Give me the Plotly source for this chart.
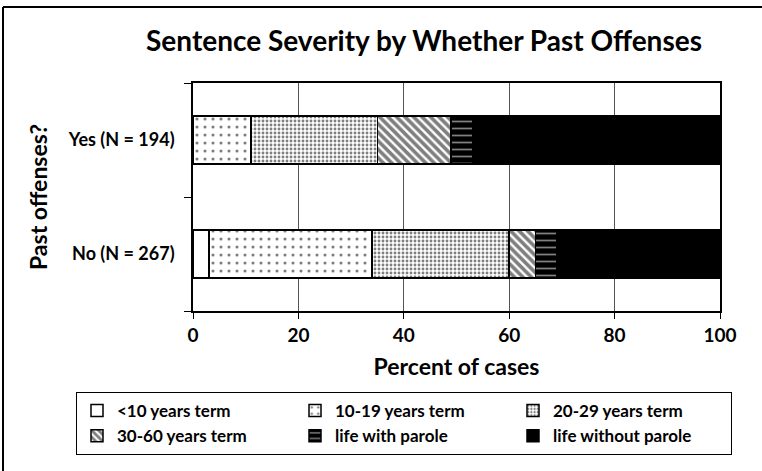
import plotly.graph_objects as go

categories = ["Yes (N = 194)", "No (N = 267)"]
series_names = ["<10 years term", "10-19 years term", "20-29 years term",
                "30-60 years term", "life with parole", "life without parole"]
under_10 = [0, 3]
y10_19 = [11, 31]
y20_29 = [24, 26]
y30_60 = [14, 5]
life_parole = [4, 4]
life_no_parole = [47, 31]
x_ticks = [0, 20, 40, 60, 80, 100]

values = [under_10, y10_19, y20_29, y30_60, life_parole, life_no_parole]
patterns = [
    dict(shape="", bgcolor="white", fgcolor="black"),
    dict(shape=".", size=8, solidity=0.12, bgcolor="white", fgcolor="black"),
    dict(shape=".", size=4, solidity=0.4, bgcolor="white", fgcolor="black"),
    dict(shape="\\", size=6, solidity=0.6, bgcolor="white", fgcolor="black"),
    dict(shape="-", size=7, solidity=0.25, bgcolor="black", fgcolor="white"),
    dict(shape="", bgcolor="black", fgcolor="black"),
]
colors = ["white", "white", "white", "white", "black", "black"]

FONT = "Lato"
L, R, T, B = 193, 42, 83, 160
PW, PH = 762 - L - R, 471 - T - B

fig = go.Figure()
for name, vals, pat, col in zip(series_names, values, patterns, colors):
    fig.add_trace(go.Bar(
        y=categories, x=vals, name=name, orientation="h",
        marker=dict(color=col, pattern=pat, line=dict(color="black", width=1.5)),
    ))

fig.update_layout(
    width=762, height=471,
    barmode="stack", bargap=0.58,
    paper_bgcolor="white", plot_bgcolor="white",
    margin=dict(l=L, r=R, t=T, b=B, autoexpand=False),
    font=dict(family=FONT, color="black"),
    title=dict(text="<b>Sentence Severity by Whether Past Offenses</b>",
               x=424 / 762, xanchor="center", xref="container",
               y=1 - 41 / 471, yanchor="middle", yref="container",
               font=dict(size=28, family=FONT, color="black")),
    legend=dict(orientation="h", xref="paper", yref="paper",
                x=(76 - L) / PW, xanchor="left", y=(311 - 392) / PH, yanchor="top",
                bordercolor="black", borderwidth=1, bgcolor="white",
                traceorder="normal", entrywidth=173, entrywidthmode="pixels",
                font=dict(size=17, family=FONT, color="black", weight="bold")),
    showlegend=True,
)
fig.update_xaxes(
    range=[0, 100], tickvals=x_ticks, ticktext=[f"<b>{v}</b>" for v in x_ticks],
    showgrid=True, gridcolor="#555555", gridwidth=1,
    showline=True, linecolor="black", linewidth=1.5, mirror=True,
    ticks="outside", ticklen=6, tickcolor="black", automargin=False,
    tickfont=dict(size=19, family=FONT, color="black"),
    title=dict(text="<b>Percent of cases</b>", font=dict(size=23, family=FONT, color="black"), standoff=14),
    zeroline=False,
)
fig.update_yaxes(
    autorange="reversed", tickson="boundaries",
    ticktext=[f"<b>{c}</b>" for c in categories], tickvals=categories,
    showline=True, linecolor="black", linewidth=1.5, mirror=True,
    ticks="outside", ticklen=7, tickcolor="black", automargin=False,
    showgrid=False, ticklabelstandoff=13,
    tickfont=dict(size=18, family=FONT, color="black"),
    title=dict(text="<b>Past offenses?</b>", font=dict(size=23, family=FONT, color="black"), standoff=14),
)

# outer chart frame (left and top edges; the rest lies outside the picture)
fx0, fy1 = (3 - L) / PW, (311 - 7) / PH
fig.add_shape(type="line", xref="paper", yref="paper",
              x0=fx0, x1=(800 - L) / PW, y0=fy1, y1=fy1,
              line=dict(color="black", width=2), layer="above")
fig.add_shape(type="line", xref="paper", yref="paper",
              x0=fx0, x1=fx0, y0=fy1, y1=(311 - 520) / PH,
              line=dict(color="black", width=2), layer="above")

fig.write_html(
    "out.html",
    config={"displayModeBar": False},
    post_script="document.body.style.margin='0';document.body.style.overflow='hidden';",
)
